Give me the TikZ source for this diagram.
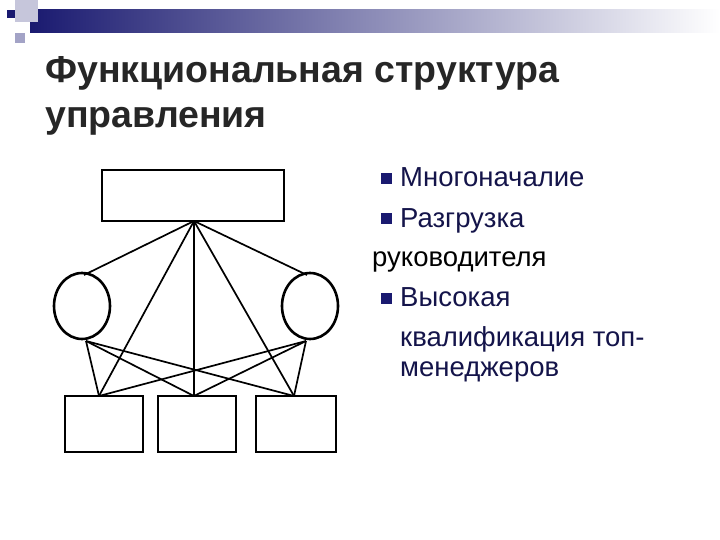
\documentclass[tikz,border=0pt]{standalone}
\usepackage{fontspec}
\setmainfont{Liberation Sans}
\usetikzlibrary{shapes.geometric}
\definecolor{navy}{HTML}{1A1A70}
\definecolor{txt}{HTML}{14144A}
\begin{document}
\begin{tikzpicture}[x=1pt,y=-1pt,
  box/.style={draw,line width=2.6pt,inner sep=0pt},
  circ/.style={draw,ellipse,line width=2.6pt,inner sep=0pt,minimum width=56pt,minimum height=66pt},
  ln/.style={line width=1.7pt},
  bul/.style={fill=navy,minimum size=11pt,inner sep=0pt},
  tx/.style={anchor=base west,inner sep=0pt,font=\fontsize{27.5}{30}\selectfont,text=txt}]
\useasboundingbox (0,0) rectangle (720,540);
\fill[white] (0,0) rectangle (720,540);
% decoration
\shade[left color=navy,right color=white] (30,10) rectangle (720,33);
\fill[navy!25] (15,0) rectangle (38,22);
\fill[navy!40] (15,33) rectangle (25,43);
\fill[navy] (7,10) rectangle (15,18);
% title
\node[anchor=base west,inner sep=0pt,font=\bfseries\fontsize{37.5}{40}\selectfont,text=black!85] (t1) at (45,83) {Функциональная структура};
\node[anchor=base west,inner sep=0pt,font=\bfseries\fontsize{37.5}{40}\selectfont,text=black!85] (t2) at (45,128) {управления};
% diagram
\node[box,minimum width=182pt,minimum height=51pt] (top) at (193,195.5) {};
\node[circ] (lc) at (82,306) {};
\node[circ] (rc) at (310,306) {};
\node[box,minimum width=78pt,minimum height=56pt] (b1) at (104,424) {};
\node[box,minimum width=78pt,minimum height=56pt] (b2) at (197,424) {};
\node[box,minimum width=80pt,minimum height=56pt] (b3) at (296,424) {};
\coordinate (tp) at (194,221);
\coordinate (lt) at (84,275);
\coordinate (rt) at (307,275);
\coordinate (lb) at (86,341);
\coordinate (rb) at (306,341);
\coordinate (p1) at (99,396);
\coordinate (p2) at (194,396);
\coordinate (p3) at (294,396);
\foreach \e in {lt,rt,p1,p2,p3} \draw[ln] (tp) -- (\e);
\foreach \e in {p1,p2,p3} {\draw[ln] (lb) -- (\e); \draw[ln] (rb) -- (\e);}
% bullets
\node[bul] (s1) at (386,179) {};
\node[tx] (l1) at (400,187) {Многоначалие};
\node[bul] (s2) at (386,219) {};
\node[tx] (l2) at (400,227) {Разгрузка};
\node[tx,text=black] (l3) at (372,266) {руководителя};
\node[bul] (s3) at (386,298) {};
\node[tx] (l4) at (400,306) {Высокая};
\node[tx] (l5) at (400,346) {квалификация топ-};
\node[tx] (l6) at (400,376) {менеджеров};
\end{tikzpicture}
\end{document}
